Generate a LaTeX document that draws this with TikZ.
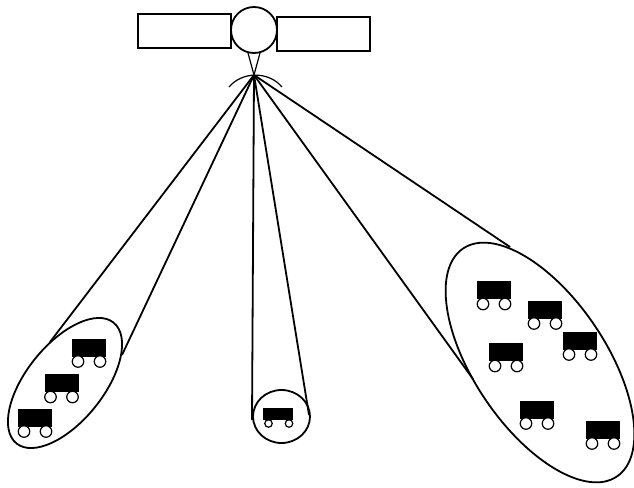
\documentclass[tikz,border=0pt]{standalone}
\usetikzlibrary{shapes.geometric}
\begin{document}
\begin{tikzpicture}[x=1pt,y=-1pt,line width=1.8pt,
	panel/.style={rectangle,draw,minimum width=93pt,minimum height=34pt,inner sep=0pt},
	cell/.style={ellipse,draw,inner sep=0pt},
	body/.style={rectangle,fill=black,minimum width=34pt,minimum height=18pt,inner sep=0pt},
	wheel/.style={circle,draw,fill=white,line width=1.2pt,minimum size=11.5pt,inner sep=0pt},
	smallbody/.style={body,minimum width=30pt,minimum height=12pt},
	smallwheel/.style={wheel,minimum size=7.5pt}]
	\useasboundingbox (0,0) rectangle (634,487);
	\node[panel] (panelL) at (184.5,31) {};
	\node[panel] (panelR) at (323.5,34) {};
	\node[circle,draw,minimum size=46pt,inner sep=0pt] (sat) at (254,30) {};
	\coordinate (feedL) at (248,53);
	\coordinate (feedR) at (260,53);
	\coordinate (apex) at (254,75);
	\coordinate (dishL) at (229,87);
	\coordinate (dishR) at (282,87);
	\draw[line width=1.2pt] (feedL) -- (apex) -- (feedR);
	\draw[line width=1.2pt] (dishL) to[bend left=50] (dishR);
	% coverage cells
	\node[cell,rotate=51.2,minimum width=155pt,minimum height=77pt] (cellA) at (65,383) {};
	\node[cell,minimum width=57pt,minimum height=53pt] (cellB) at (281.5,416.5) {};
	\node[cell,rotate=-56,minimum width=275pt,minimum height=132pt] (cellC) at (540,362.5) {};
	\coordinate (a1) at (50,342);
	\coordinate (a2) at (122,355);
	\coordinate (b1) at (252,420);
	\coordinate (b2) at (309,415);
	\coordinate (c1) at (473,379);
	\coordinate (c2) at (510,247);
	\foreach \e in {a1,a2,b1,b2,c1,c2}
		\draw (apex) -- (\e);
	% terminals
	\foreach \n/\x/\y in {ta/89/347.5,tb/61.5/383,tc/35/417.5,td/494/290,te/545/309.5,tf/580/340.5,tg/506/352,th/537/409.5,ti/603/429.5} {
		\node[body] (\n) at (\x,\y) {};
		\node[wheel] (\n L) at (\x-11,\y+14) {};
		\node[wheel] (\n R) at (\x+11,\y+14) {};
	}
	\node[smallbody] (tm) at (278,414) {};
	\node[smallwheel] (tmL) at (268.5,423.5) {};
	\node[smallwheel] (tmR) at (289,423.5) {};
\end{tikzpicture}
\end{document}
